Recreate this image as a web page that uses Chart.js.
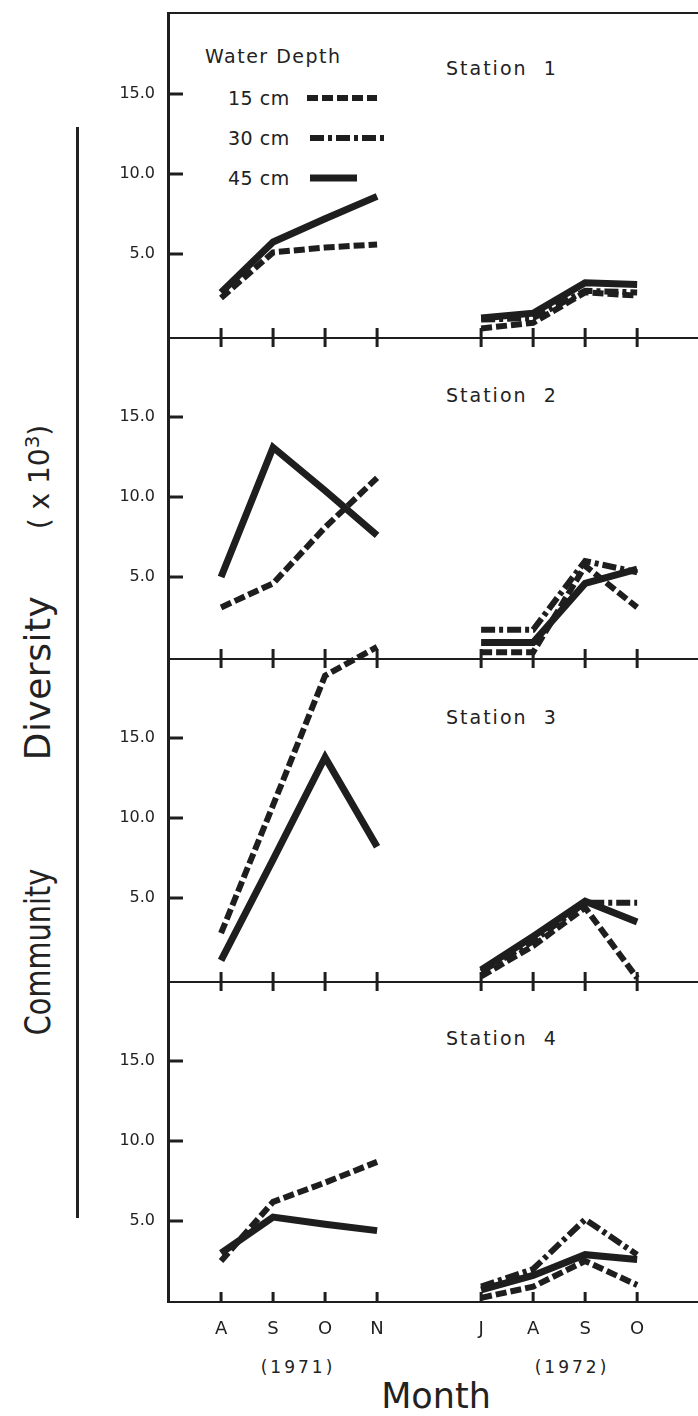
<!DOCTYPE html>
<html>
<head>
<meta charset="utf-8">
<script src="https://cdn.jsdelivr.net/npm/chart.js@4.4.1/dist/chart.umd.min.js"></script>
<style>
  html, body { margin: 0; padding: 0; background: #fff; }
  body { width: 698px; height: 1416px; position: relative; overflow: hidden;
         font-family: 'DejaVu Sans', sans-serif; color: #222; }
  canvas.panel { position: absolute; left: 0; }
  .txt { position: absolute; white-space: nowrap; line-height: 1; transform: translateY(-50%); }
  .station { font-size: 19px; letter-spacing: 2px; left: 446px; }
  .leg { font-size: 19px; letter-spacing: 0.5px; left: 228px; }
  .vtitle { position: absolute; left: 38px; white-space: nowrap; line-height: 1; font-size: 36px; }
  .year { font-size: 17px; letter-spacing: 3px; transform: translate(-50%, -50%); }
  #yline { position: absolute; left: 76px; top: 127px; width: 3px; height: 1091px; background: #222; }
</style>
</head>
<body>

<div id="yline"></div>
<div class="vtitle" style="top:952px; transform: translate(-50%,-50%) rotate(-90deg) scaleX(0.8);">Community</div>
<div class="vtitle" style="top:678px; transform: translate(-50%,-50%) rotate(-90deg); letter-spacing: 0.5px;">Diversity</div>
<div class="vtitle" style="top:477px; font-size: 28px; transform: translate(-50%,-50%) rotate(-90deg);">( x 10<sup style="font-size:20px">3</sup>)</div>

<div class="txt leg" style="left:205px; top:56px; letter-spacing:1.5px;">Water Depth</div>
<div class="txt leg" style="top:98px;">15 cm</div>
<div class="txt leg" style="top:138px;">30 cm</div>
<div class="txt leg" style="top:178px;">45 cm</div>

<div class="txt station" style="top:68px;">Station&nbsp;&nbsp;1</div>
<div class="txt station" style="top:395px;">Station&nbsp;&nbsp;2</div>
<div class="txt station" style="top:717px;">Station&nbsp;&nbsp;3</div>
<div class="txt station" style="top:1038px;">Station&nbsp;&nbsp;4</div>

<div class="txt year" style="left:298px; top:1367px;">(1971)</div>
<div class="txt year" style="left:572px; top:1367px;">(1972)</div>
<div class="txt" style="left:436px; top:1396px; font-size:35px; transform: translate(-50%,-50%);">Month</div>

<canvas id="p1" class="panel"></canvas>
<canvas id="p2" class="panel"></canvas>
<canvas id="p3" class="panel"></canvas>
<canvas id="p4" class="panel"></canvas>

<script>
const months1971 = ['A', 'S', 'O', 'N'];
const months1972 = ['J', 'A', 'S', 'O'];
const depthLabels = ['15 cm', '30 cm', '45 cm'];
const yTickValues = [5, 10, 15];

// community diversity (x10^3): A S O N 1971, then J A S O 1972; null = not sampled
const st1_15 = [2.25, 5.1, 5.4, 5.6, 0.35, 0.7, 2.6, 2.4];
const st1_30 = [null, null, null, null, 0.9, 1.0, 2.7, 2.6];
const st1_45 = [2.6, 5.75, 7.2, 8.6, 1.0, 1.3, 3.2, 3.1];

const st2_15 = [3.1, 4.6, 8.1, 11.2, 0.3, 0.3, 5.7, 3.1];
const st2_30 = [null, null, null, null, 1.7, 1.7, 6.0, 5.3];
const st2_45 = [5.0, 13.1, 10.4, 7.6, 0.9, 0.9, 4.6, 5.5];

const st3_15 = [2.8, 10.8, 18.9, 20.7, 0.1, 2.0, 4.4, 0.0];
const st3_30 = [null, null, null, null, 0.4, 2.3, 4.7, 4.7];
const st3_45 = [1.1, 7.4, 13.8, 8.2, 0.5, 2.6, 4.8, 3.5];

const st4_15 = [2.5, 6.2, 7.4, 8.7, 0.2, 0.9, 2.5, 1.0];
const st4_30 = [null, null, null, null, 0.9, 2.0, 5.1, 2.9];
const st4_45 = [3.0, 5.25, 4.8, 4.4, 0.7, 1.6, 2.9, 2.6];

const stations = [
    [st1_15, st1_30, st1_45],
    [st2_15, st2_30, st2_45],
    [st3_15, st3_30, st3_45],
    [st4_15, st4_30, st4_45]
];

const ink = '#1e1e1e';
const xTickPos = [0, 1, 2, 3, 5, 6, 7, 8];   // slot 4 (Dec) left empty
const depthStyles = [
    { dash: [11, 4], width: 6 },
    { dash: [14, 4, 4, 4], width: 6 },
    { dash: [], width: 7 }
];
// panel frames in page pixels + y range
const panels = [
    { top: 13,  bottom: 338,  min: -0.25,  max: 20.06 },
    { top: 338, bottom: 659,  min: -0.125, max: 19.94 },
    { top: 659, bottom: 982,  min: -0.25,  max: 19.94 },
    { top: 982, bottom: 1302, min: -0.06,  max: 19.94 }
];

function toPoints(vals) {
    const pts = [];
    vals.forEach((v, i) => {
        pts.push({ x: i < 4 ? i : i + 1, y: v });
        if (i === 3) pts.push({ x: 4, y: null });
    });
    return pts;
}

function monthLabel(v) {
    return v < 4 ? months1971[v] : months1972[v - 5];
}

function noPad(s) {
    s.paddingTop = 0;
    s.paddingBottom = 0;
    s.paddingLeft = 0;
    s.paddingRight = 0;
}

const frameTicks = {
    id: 'frameTicks',
    afterDraw(chart, args, opts) {
        const ctx = chart.ctx;
        const a = chart.chartArea;
        const xs = chart.scales.x, ys = chart.scales.y;
        ctx.save();
        ctx.strokeStyle = ink;
        ctx.lineWidth = 3;
        ctx.beginPath();
        xTickPos.forEach(v => {
            const px = xs.getPixelForValue(v);
            ctx.moveTo(px, a.bottom);
            ctx.lineTo(px, a.bottom - 10);
            if (opts.topTicks) {
                ctx.moveTo(px, a.top);
                ctx.lineTo(px, a.top + 9);
            }
        });
        yTickValues.forEach(v => {
            const py = ys.getPixelForValue(v);
            ctx.moveTo(a.left, py);
            ctx.lineTo(a.left + 15, py);
        });
        ctx.stroke();
        if (opts.topBorder) {
            ctx.lineWidth = 2;
            ctx.beginPath();
            ctx.moveTo(a.left, a.top);
            ctx.lineTo(a.right, a.top);
            ctx.stroke();
        }
        if (opts.legend) {
            const rows = [[307, 377, 98], [310, 385, 138], [310, 357, 178]];
            rows.forEach((r, i) => {
                ctx.lineWidth = depthStyles[i].width;
                ctx.setLineDash(depthStyles[i].dash);
                ctx.lineCap = 'butt';
                ctx.beginPath();
                ctx.moveTo(r[0], r[2] - chart.canvas.offsetTop);
                ctx.lineTo(r[1], r[2] - chart.canvas.offsetTop);
                ctx.stroke();
            });
        }
        ctx.restore();
    }
};

panels.forEach((p, k) => {
    const isLast = k === panels.length - 1;
    const extraTop = Math.min(30, p.top);
    const axisH = isLast ? 44 : 0;
    const padBottom = isLast ? 0 : 10;
    const canvas = document.getElementById('p' + (k + 1));
    const top = p.top - extraTop;
    const h = p.bottom - top + axisH + padBottom;
    canvas.width = 698;
    canvas.height = h;
    canvas.style.top = top + 'px';
    canvas.style.width = '698px';
    canvas.style.height = h + 'px';

    const datasets = stations[k].map((vals, i) => ({
        label: depthLabels[i],
        data: toPoints(vals),
        borderColor: ink,
        borderWidth: depthStyles[i].width,
        borderDash: depthStyles[i].dash,
        borderCapStyle: 'butt',
        borderJoinStyle: 'miter',
        pointRadius: 0,
        spanGaps: false,
        clip: false,
        tension: 0
    }));

    new Chart(canvas.getContext('2d'), {
        type: 'line',
        data: { datasets: datasets },
        options: {
            responsive: false,
            animation: false,
            layout: { padding: { top: extraTop, bottom: padBottom, left: 0, right: 0 } },
            plugins: {
                legend: { display: false },
                tooltip: { enabled: false },
                frameTicks: { topTicks: k > 0, topBorder: k === 0, legend: k === 0 }
            },
            scales: {
                x: {
                    type: 'linear',
                    min: -1.02,
                    max: 9.17,
                    grid: { display: false, drawTicks: false },
                    border: { display: true, color: ink, width: 2 },
                    ticks: {
                        display: isLast,
                        color: '#222',
                        padding: 17,
                        maxRotation: 0,
                        font: { family: 'DejaVu Sans', size: 18 },
                        callback: v => monthLabel(v)
                    },
                    afterBuildTicks: s => { s.ticks = xTickPos.map(v => ({ value: v })); },
                    afterFit: s => { s.height = axisH; noPad(s); }
                },
                y: {
                    min: p.min,
                    max: p.max,
                    grid: { display: false, drawTicks: false },
                    border: { display: true, color: ink, width: 3 },
                    ticks: {
                        color: '#222',
                        padding: 13,
                        font: { family: 'DejaVu Sans', size: 16 },
                        callback: v => Number(v).toFixed(1)
                    },
                    afterBuildTicks: s => { s.ticks = yTickValues.map(v => ({ value: v })); },
                    afterFit: s => { s.width = 168; noPad(s); }
                }
            }
        },
        plugins: [frameTicks]
    });
});
</script>
</body>
</html>
